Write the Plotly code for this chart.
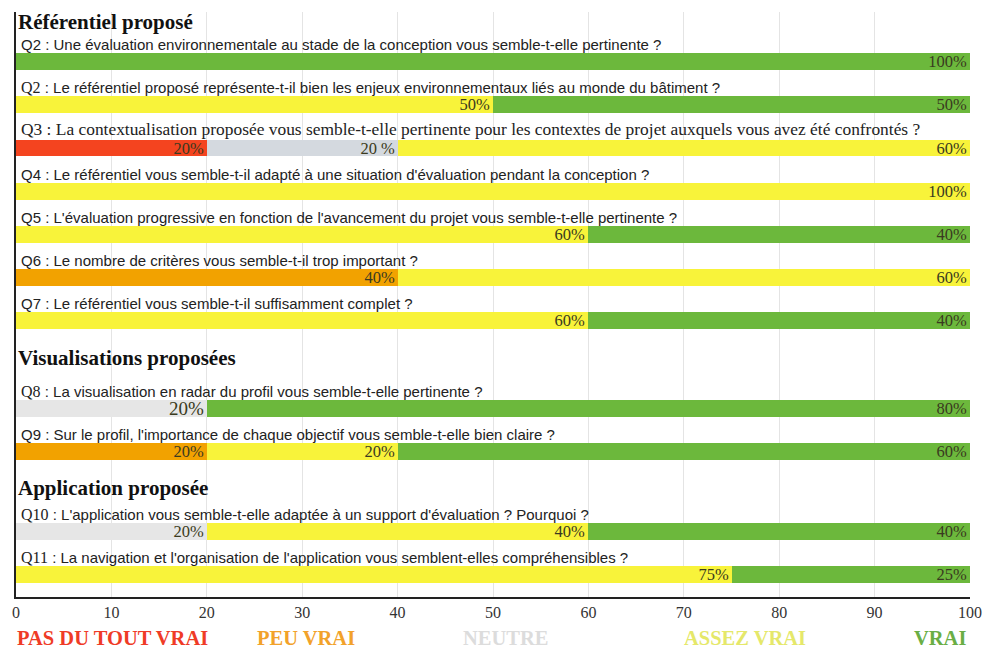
import plotly.graph_objects as go

# Survey answers (% of respondents) per question
questions = [
    "Q2 : Une évaluation environnementale au stade de la conception vous semble-t-elle pertinente ?",
    "Q2 : Le référentiel proposé représente-t-il bien les enjeux environnementaux liés au monde du bâtiment ?",
    "Q3 : La contextualisation proposée vous semble-t-elle pertinente pour les contextes de projet auxquels vous avez été confrontés ?",
    "Q4 : Le référentiel vous semble-t-il adapté à une situation d'évaluation pendant la conception ?",
    "Q5 : L'évaluation progressive en fonction de l'avancement du projet vous semble-t-elle pertinente ?",
    "Q6 : Le nombre de critères vous semble-t-il trop important ?",
    "Q7 : Le référentiel vous semble-t-il suffisamment complet ?",
    "Q8 : La visualisation en radar du profil vous semble-t-elle pertinente ?",
    "Q9 : Sur le profil, l'importance de chaque objectif vous semble-t-elle bien claire ?",
    "Q10 : L'application vous semble-t-elle adaptée à un support d'évaluation ? Pourquoi ?",
    "Q11 : La navigation et l'organisation de l'application vous semblent-elles compréhensibles ?",
]

categories = ["PAS DU TOUT VRAI", "PEU VRAI", "NEUTRE", "ASSEZ VRAI", "VRAI"]
pas_du_tout_vrai = [0, 0, 20, 0, 0, 0, 0, 0, 0, 0, 0]
peu_vrai = [0, 0, 0, 0, 0, 40, 0, 0, 20, 0, 0]
neutre = [0, 0, 20, 0, 0, 0, 0, 20, 0, 20, 0]
assez_vrai = [0, 50, 60, 100, 60, 60, 60, 0, 20, 40, 75]
vrai = [100, 50, 0, 0, 40, 0, 40, 80, 60, 40, 25]

sections = ["Référentiel proposé", "Visualisations proposées", "Application proposée"]
section_first_question = [0, 7, 9]

x_ticks = [0, 10, 20, 30, 40, 50, 60, 70, 80, 90, 100]

# ---- layout / styling ----
W, H = 984, 651
M_L, M_R, M_T, M_B = 16, 14, 12, 54
row_pos = [0, 1, 2, 3, 4, 5, 6, 8.03, 9.03, 10.88, 11.88]
section_offset = [-0.914, -1.17, -1.007]
bar_colors = ["#f4441f", "#f2a200", "#d4d9df", "#f8f33a", "#6cb83c"]
legend_colors = ["#ef3b26", "#f2a22a", "#dcdcdc", "#e5e86a", "#6aae45"]
legend_px = [15, 306, 506, 745, 968]
legend_anchor = ["left", "center", "center", "center", "right"]
LEGEND_Y_PX = 638
SANS = "Liberation Sans, Arial, sans-serif"
SERIF = "Liberation Serif, Times New Roman, serif"
serif_prefix = [False, True, True, False, False, False, False, True, False, True, True]
serif_whole = [False, False, True, False, False, False, False, False, False, False, False]

series = [pas_du_tout_vrai, peu_vrai, neutre, assez_vrai, vrai]

fig = go.Figure()
for ci, (name, vals) in enumerate(zip(categories, series)):
    texts = [f"{v}%" if v else "" for v in vals]
    if ci == 2:
        texts[2] = texts[2].replace("%", " %")
    sizes = [19 if (ci == 2 and qi == 7) else 16.5 for qi in range(len(vals))]
    colors = [bar_colors[ci]] * len(vals)
    if ci == 2:
        colors = ["#e6e6e6" if qi != 2 else bar_colors[ci] for qi in range(len(vals))]
    fig.add_trace(go.Bar(
        name=name,
        y=row_pos,
        x=vals,
        orientation="h",
        width=0.39,
        marker=dict(color=colors, line=dict(width=0)),
        text=texts,
        textposition="inside",
        insidetextanchor="end",
        constraintext="none",
        textfont=dict(family=SERIF, size=sizes, color="#3a3a20"),
        hoverinfo="skip",
        showlegend=False,
    ))

annotations = []
for qi, q in enumerate(questions):
    prefix, rest = q.split(" : ", 1)
    offset = 0.39
    if serif_whole[qi]:
        txt = f"<span style='font-family:{SERIF}'>{q}</span>"
        size = 17.4
        offset = 0.43
    elif serif_prefix[qi]:
        txt = f"<span style='font-family:{SERIF};font-size:16px'>{prefix}</span> : {rest}"
        size = 15
    else:
        txt = q
        size = 15
    annotations.append(dict(
        x=0, y=row_pos[qi] - offset, xref="x", yref="y",
        text=txt, showarrow=False, xanchor="left", yanchor="middle",
        xshift=3, font=dict(family=SANS, size=size, color="#222222"),
    ))

for si, s in enumerate(sections):
    annotations.append(dict(
        x=0, y=row_pos[section_first_question[si]] + section_offset[si],
        xref="x", yref="y", text=f"<b>{s}</b>", showarrow=False,
        xanchor="left", yanchor="middle", xshift=0,
        font=dict(family=SERIF, size=21, color="#111111"),
    ))

plot_w = W - M_L - M_R
plot_h = H - M_T - M_B
for ci, name in enumerate(categories):
    annotations.append(dict(
        x=(legend_px[ci] - M_L) / plot_w, y=-(LEGEND_Y_PX - (H - M_B)) / plot_h,
        xref="paper", yref="paper",
        text=f"<b>{name}</b>", showarrow=False,
        xanchor=legend_anchor[ci], yanchor="middle",
        font=dict(family=SERIF, size=20.5, color=legend_colors[ci]),
    ))

fig.update_layout(
    width=W, height=H,
    margin=dict(l=M_L, r=M_R, t=M_T, b=M_B, autoexpand=False),
    barmode="stack",
    bargap=0,
    paper_bgcolor="white",
    plot_bgcolor="white",
    annotations=annotations,
    xaxis=dict(
        range=[0, 100], tickvals=x_ticks, ticktext=[str(t) for t in x_ticks],
        showgrid=True, gridcolor="#e4e4e4", gridwidth=1,
        showline=True, linecolor="#222222", linewidth=2,
        zeroline=False, ticks="", automargin=False,
        tickfont=dict(family=SERIF, size=16, color="#333333"),
        fixedrange=True,
    ),
    yaxis=dict(
        range=[12.40, -1.15], showgrid=False, zeroline=False,
        showticklabels=False, ticks="", automargin=False,
        showline=True, linecolor="#222222", linewidth=2,
        fixedrange=True,
    ),
)

fig.write_html("out.html")
